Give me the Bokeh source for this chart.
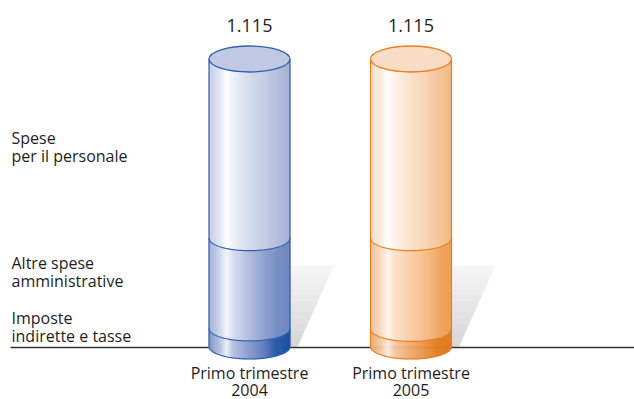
import numpy as np
from bokeh.plotting import figure
from bokeh.models import Range1d
from bokeh.core.properties import value
from bokeh.embed import file_html
from bokeh.resources import INLINE

# ---------------- data ----------------
period_line1 = ["Primo trimestre", "Primo trimestre"]
years = ["2004", "2005"]
imposte = [70, 68]          # Imposte indirette e tasse
altre = [350, 352]          # Altre spese amministrative
personale = [695, 695]      # Spese per il personale
total_labels = ["1.115", "1.115"]
comp_line1 = ["Imposte", "Altre spese", "Spese"]
comp_line2 = ["indirette e tasse", "amministrative", "per il personale"]

# ---------------- layout / style ----------------
W, H = 634, 399
BASE_PX = 346.0      # pixel row of value 0 (cylinder base centre)
TOP_PX = 58.5        # pixel row of the tallest total
CENTERS = [249.0, 410.5]
HALF_W = 40.5
B = 12.5             # ellipse semi-minor axis (px)
FONT = "Open Sans"
TXT = "#1e1e1e"

totals = [a + b + c for a, b, c in zip(imposte, altre, personale)]
K = max(totals) / (BASE_PX - TOP_PX)   # value units per pixel

p = figure(width=W, height=H, output_backend="svg", toolbar_location=None,
           x_range=Range1d(0, W), y_range=Range1d(-(H - BASE_PX) * K, BASE_PX * K),
           min_border=0)
p.axis.visible = False
p.grid.visible = False
p.outline_line_color = None
p.background_fill_color = "white"


def hex2rgb(h):
    h = h.lstrip("#")
    return np.array([int(h[i:i + 2], 16) for i in (0, 2, 4)], dtype=float)


def grad(stops, t):
    ts = [s[0] for s in stops]
    cs = [hex2rgb(s[1]) for s in stops]
    for i in range(len(ts) - 1):
        if ts[i] <= t <= ts[i + 1]:
            f = (t - ts[i]) / (ts[i + 1] - ts[i])
            c = cs[i] * (1 - f) + cs[i + 1] * f
            return "#%02x%02x%02x" % tuple(int(round(v)) for v in c)
    c = cs[-1]
    return "#%02x%02x%02x" % tuple(int(v) for v in c)


palettes = [
    {  # blue 2004
        "stroke": "#2f62ad", "cap": "#c0c8e4",
        "segs": [
            [(0, "#8495cb"), (0.14, "#b9c3e2"), (0.22, "#eef1f8"), (0.3, "#b8c2e2"), (0.5, "#8b9dcf"),
             (0.7, "#5f7cbc"), (0.82, "#2d5eaa"), (1.0, "#1b4f9e")],
            [(0, "#a5b2da"), (0.14, "#d0d7ec"), (0.22, "#f6f7fb"), (0.3, "#d8deef"), (0.45, "#bcc6e3"),
             (0.7, "#8fa1cf"), (0.85, "#7990c6"), (1.0, "#6f88c2")],
            [(0, "#c3cbe6"), (0.14, "#e4e8f4"), (0.22, "#ffffff"), (0.3, "#eef1f8"), (0.42, "#dde2f0"),
             (0.7, "#c6cde5"), (1.0, "#a3b1d6")],
        ],
    },
    {  # orange 2005
        "stroke": "#e4801f", "cap": "#f9dcc4",
        "segs": [
            [(0, "#eea66c"), (0.14, "#f6c9a4"), (0.22, "#fdeee2"), (0.3, "#f5c8a2"), (0.5, "#eea86c"),
             (0.7, "#e88f3c"), (0.82, "#e27b1e"), (1.0, "#e07518")],
            [(0, "#f4c098"), (0.14, "#fadbc2"), (0.22, "#fff6ee"), (0.3, "#fce0c8"), (0.45, "#f9d1ac"),
             (0.7, "#f4bb84"), (0.85, "#efa460"), (1.0, "#ec9a4a")],
            [(0, "#fadcc2"), (0.14, "#fdeee2"), (0.22, "#ffffff"), (0.3, "#fef3ea"), (0.42, "#fce6d2"),
             (0.7, "#f8d2ae"), (1.0, "#f2b57c")],
        ],
    },
]

# ---------------- shadows ----------------
SH_H = (BASE_PX - 265) * K
for cx in CENTERS:
    nb = 14
    xs, ys, cols = [], [], []
    for j in range(nb):
        f0, f1 = j / nb, (j + 1) / nb
        xl = cx + HALF_W
        xr0 = cx + 48 + 36 * f0
        xr1 = cx + 48 + 36 * f1
        xs.append([xl, xr0, xr1, xl])
        ys.append([f0 * SH_H, f0 * SH_H, f1 * SH_H, f1 * SH_H])
        cols.append(grad([(0, "#d6d6d6"), (0.6, "#e9e9e9"), (1, "#f6f6f6")], (f0 + f1) / 2))
    p.patches(xs, ys, fill_color=cols, line_color=cols, line_width=0.5)

# ---------------- baseline ----------------
p.segment(x0=[10], y0=[-1 * K], x1=[W], y1=[-1 * K], line_color="#333333", line_width=1.3)

# ---------------- cylinders ----------------
N = 81
for i, cx in enumerate(CENTERS):
    pal = palettes[i]
    segs = [(0, imposte[i]),
            (imposte[i], imposte[i] + altre[i]),
            (imposte[i] + altre[i], totals[i])]
    edges = np.linspace(cx - HALF_W, cx + HALF_W, N + 1)
    mids = (edges[:-1] + edges[1:]) / 2
    u = (mids - cx) / HALF_W
    arc = B * np.sqrt(np.clip(1 - u ** 2, 0, 1)) * K
    tt = (mids - (cx - HALF_W)) / (2 * HALF_W)
    for s, (lo, hi) in enumerate(segs):
        cols = [grad(pal["segs"][s], t) for t in tt]
        p.quad(left=edges[:-1], right=edges[1:], bottom=lo - arc, top=hi - arc,
               fill_color=cols, line_color=cols, line_width=0.6)
    # front arcs of boundaries
    xa = np.linspace(cx - HALF_W, cx + HALF_W, 120)
    ua = (xa - cx) / HALF_W
    arc_a = B * np.sqrt(np.clip(1 - ua ** 2, 0, 1)) * K
    for v in [0, segs[1][0], segs[2][0]]:
        p.line(xa, v - arc_a, line_color=pal["stroke"], line_width=1.2)
    # sides
    p.segment(x0=[cx - HALF_W, cx + HALF_W], y0=[0, 0], x1=[cx - HALF_W, cx + HALF_W],
              y1=[totals[i], totals[i]], line_color=pal["stroke"], line_width=1.2)
    # top cap
    p.ellipse(x=[cx], y=[totals[i]], width=[2 * HALF_W], height=[2 * B + 1],
              width_units="data", height_units="screen",
              fill_color=pal["cap"], line_color=pal["stroke"], line_width=1.3)

# ---------------- texts ----------------
# totals
p.text(x=CENTERS, y=[t + (TOP_PX - 25) * K for t in totals], text=total_labels,
       text_font=value(FONT), text_font_size="18px", text_color=TXT,
       text_align="center", text_baseline="middle")
# category labels
p.text(x=CENTERS, y=[-(372 - BASE_PX) * K] * 2, text=period_line1,
       text_font=value(FONT), text_font_size="16px", text_color=TXT,
       text_align="center", text_baseline="middle")
p.text(x=CENTERS, y=[-(389 - BASE_PX) * K] * 2, text=years,
       text_font=value(FONT), text_font_size="16px", text_color=TXT,
       text_align="center", text_baseline="middle")
# component labels (left)
label_rows = [317, 262, 137]
p.text(x=[11] * 3, y=[(BASE_PX - r) * K for r in label_rows], text=comp_line1,
       text_font=value(FONT), text_font_size="16px", text_color=TXT,
       text_align="left", text_baseline="middle")
p.text(x=[11] * 3, y=[(BASE_PX - r - 18) * K for r in label_rows], text=comp_line2,
       text_font=value(FONT), text_font_size="16px", text_color=TXT,
       text_align="left", text_baseline="middle")

open("out.html", "w").write(file_html(p, INLINE))
